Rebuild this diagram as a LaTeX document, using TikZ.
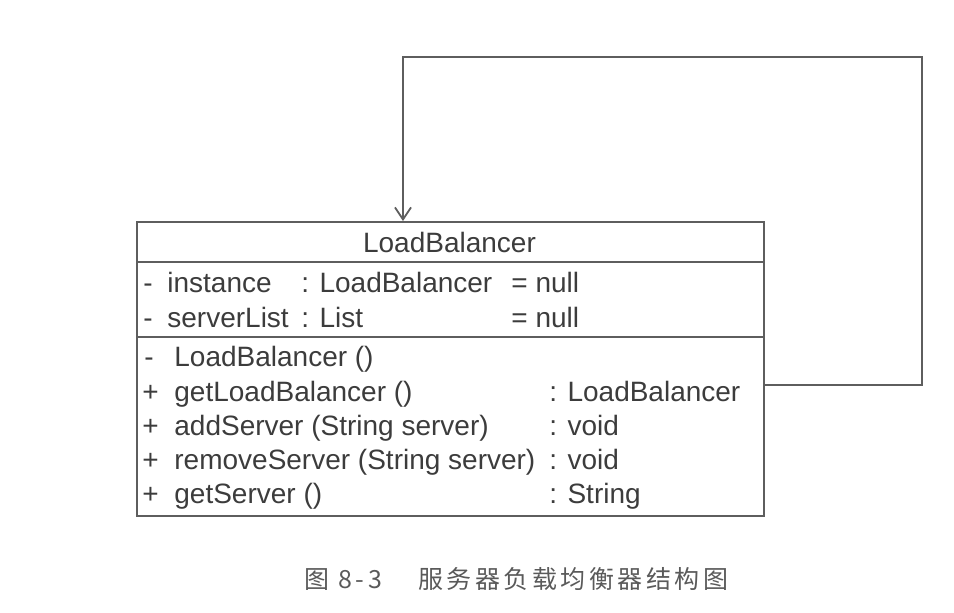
\documentclass[tikz,border=0pt]{standalone}
\usepackage{fontspec}
\setmainfont{Liberation Sans}
\newfontfamily\cjk{Noto Sans CJK SC}
\usetikzlibrary{arrows.meta}
\definecolor{linec}{HTML}{5E5E5E}
\definecolor{textc}{HTML}{3C3C3C}
\definecolor{capc}{HTML}{5A5A5A}
\tikzset{
  umlline/.style={draw=linec, line width=1pt},
  assoc/.style={draw=linec, line width=0.9pt, -{Straight Barb[length=6pt,width=8pt,line width=0.9pt]}},
  txt/.style={inner sep=0pt, anchor=base west, text=textc, font=\fontsize{14}{16}\selectfont},
  captxt/.style={inner sep=0pt, anchor=base west, text=capc, font=\cjk\fontsize{12.5}{15}\selectfont\addfontfeature{LetterSpace=14}},
}
\begin{document}
\begin{tikzpicture}[x=0.5pt,y=-0.5pt]
\useasboundingbox (0,0) rectangle (954,612);
% class box
\node (lb) [umlline, rectangle, inner sep=0pt, anchor=north west,
  minimum width=313.5pt, minimum height=147pt] at (136,221) {};
\draw[umlline] (lb.west |- 0,262) -- (lb.east |- 0,262);
\draw[umlline] (lb.west |- 0,337) -- (lb.east |- 0,337);
% name
\node (name) [inner sep=0pt, anchor=base, text=textc, font=\fontsize{14}{16}\selectfont] at (449.5,252) {LoadBalancer};
% attributes
\node (a1v) [txt] at (143,292) {-};
\node (a1n) [txt] at (167,292) {instance};
\node (a1t) [txt] at (301,292) {: LoadBalancer};
\node (a1d) [txt] at (511,292) {= null};
\node (a2v) [txt] at (143,327) {-};
\node (a2n) [txt] at (167,327) {serverList};
\node (a2t) [txt] at (301,327) {: List};
\node (a2d) [txt] at (511,327) {= null};
% operations
\node (m1v) [txt] at (144,366) {-};
\node (m1n) [txt] at (174,366) {LoadBalancer ()};
\node (m2v) [txt] at (142,401) {+};
\node (m2n) [txt] at (174,401) {getLoadBalancer ()};
\node (m2t) [txt] at (549,401) {: LoadBalancer};
\node (m3v) [txt] at (142,435) {+};
\node (m3n) [txt] at (174,435) {addServer (String server)};
\node (m3t) [txt] at (549,435) {: void};
\node (m4v) [txt] at (142,469) {+};
\node (m4n) [txt] at (174,469) {removeServer (String server)};
\node (m4t) [txt] at (549,469) {: void};
\node (m5v) [txt] at (142,503) {+};
\node (m5n) [txt] at (174,503) {getServer ()};
\node (m5t) [txt] at (549,503) {: String};
% self association
\coordinate (src) at (lb.east |- 0,385);
\coordinate (dst) at (lb.north -| 403,0);
\coordinate (corner) at (922,57);
\draw[assoc] (src) -| (corner) -| (dst);
% caption
\node (cap1) [captxt] at (304,588) {图 8-3};
\node (cap2) [captxt] at (418,588) {服务器负载均衡器结构图};
\end{tikzpicture}
\end{document}
